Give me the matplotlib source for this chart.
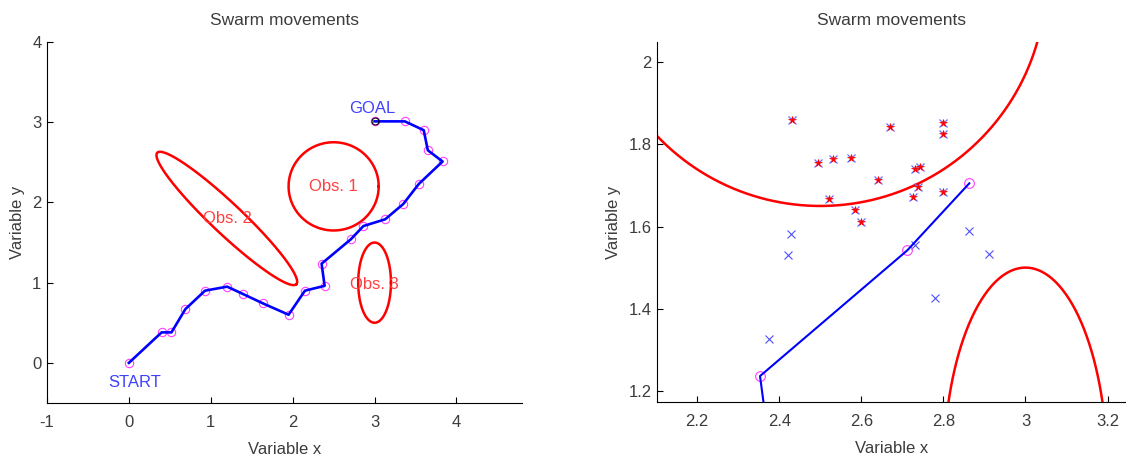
import numpy as np
import matplotlib
matplotlib.use("Agg")
import matplotlib.pyplot as plt

plt.rcParams['font.family'] = ['Liberation Sans', 'DejaVu Sans']
plt.rcParams['axes.unicode_minus'] = False

# path of the swarm best (start -> goal)
path_x = [0.00, 0.40, 0.52, 0.69, 0.93, 1.20, 1.39, 1.64, 1.95, 2.15, 2.39,
          2.353, 2.712, 2.863, 3.13, 3.35, 3.54, 3.83, 3.65, 3.60, 3.37, 3.00]
path_y = [0.00, 0.38, 0.38, 0.67, 0.90, 0.95, 0.86, 0.74, 0.60, 0.90, 0.96,
          1.236, 1.542, 1.705, 1.79, 1.98, 2.23, 2.51, 2.65, 2.90, 3.01, 3.01]
n_zoom = 14  # points of the path drawn in the zoomed view

# obstacles: (cx, cy, semi-axis a, semi-axis b, angle deg)
obstacles = [(2.5, 2.2, 0.55, 0.55, 0.0),
             (1.196, 1.80, 1.18, 0.19, -44.0),
             (3.0, 1.0, 0.20, 0.50, 0.0)]
obs_labels = ['Obs. 1', 'Obs. 2', 'Obs. 3']
obs_label_xy = [(2.5, 2.2), (1.2, 1.8), (3.0, 0.98)]

# particles in the zoomed view
star_x = [2.430, 2.671, 2.800, 2.798, 2.495, 2.532, 2.574, 2.640, 2.730, 2.742,
          2.739, 2.725, 2.798, 2.521, 2.584, 2.598]
star_y = [1.859, 1.841, 1.851, 1.825, 1.754, 1.765, 1.767, 1.712, 1.739, 1.746,
          1.697, 1.673, 1.683, 1.668, 1.641, 1.610]
cross_x = [2.429, 2.421, 2.374, 2.730, 2.863, 2.912, 2.779]
cross_y = [1.581, 1.531, 1.326, 1.555, 1.589, 1.533, 1.427]

txt = '#3c3c3c'
fs = 12


def ellipse(cx, cy, a, b, ang):
    t = np.linspace(0, 2 * np.pi, 400)
    th = np.deg2rad(ang)
    ex = a * np.cos(t)
    ey = b * np.sin(t)
    return cx + ex * np.cos(th) - ey * np.sin(th), cy + ex * np.sin(th) + ey * np.cos(th)


def style(ax):
    ax.spines['top'].set_visible(False)
    ax.spines['right'].set_visible(False)
    ax.tick_params(direction='in', length=4, colors='black', labelcolor=txt,
                   labelsize=fs)
    ax.tick_params(axis='x', pad=9)
    ax.tick_params(axis='y', pad=4)
    ax.set_title('Swarm movements', fontsize=12.5, color=txt, pad=12)
    ax.set_xlabel('Variable x', fontsize=fs, color=txt, labelpad=8)
    ax.set_ylabel('Variable y', fontsize=fs, color=txt, labelpad=5)


fig = plt.figure(figsize=(11.26, 4.57), dpi=100)
ax1 = fig.add_axes([0.0417, 0.1182, 0.4219, 0.790])
ax2 = fig.add_axes([0.5835, 0.1204, 0.4165, 0.7877])

# left: full scene
for (cx, cy, a, b, ang), lab, (lx, ly) in zip(obstacles, obs_labels, obs_label_xy):
    ex, ey = ellipse(cx, cy, a, b, ang)
    ax1.plot(ex, ey, color='red', lw=1.8)
    ax1.text(lx, ly, lab, color='#ff4040', fontsize=fs, ha='center', va='center')
ax1.plot(path_x, path_y, 'o', ms=6, mfc='none', mec='#ff40ff', mew=0.8)
ax1.plot(path_x, path_y, color='#0000ff', lw=1.9)
ax1.plot(path_x[-1], path_y[-1], 'o', ms=5, mfc='none', mec='black', mew=0.8)
ax1.text(2.97, 3.17, 'GOAL', color='#4040ff', fontsize=fs, ha='center', va='center')
ax1.text(0.07, -0.24, 'START', color='#4040ff', fontsize=fs, ha='center', va='center')
ax1.set_xlim(-1, 4.8)
ax1.set_ylim(-0.5, 4)
ax1.set_xticks([-1, 0, 1, 2, 3, 4])
ax1.set_yticks([0, 1, 2, 3, 4])
style(ax1)

# right: zoomed view
for (cx, cy, a, b, ang) in obstacles:
    ex, ey = ellipse(cx, cy, a, b, ang)
    ax2.plot(ex, ey, color='red', lw=1.8)
ax2.plot(star_x, star_y, 'x', ms=5.5, color='#6a6aff', mew=0.9)
ax2.plot(star_x, star_y, '*', ms=5.5, color='red', mew=0.5)
ax2.plot(cross_x, cross_y, 'x', ms=5.5, color='#5050ff', mew=0.8)
ax2.plot(path_x[:n_zoom], path_y[:n_zoom], 'o', ms=7, mfc='none', mec='#ff40ff', mew=0.8)
ax2.plot(path_x[:n_zoom], path_y[:n_zoom], color='#0000ff', lw=1.5)
ax2.set_xlim(2.102, 3.245)
ax2.set_ylim(1.173, 2.049)
ax2.set_xticks([2.2, 2.4, 2.6, 2.8, 3.0, 3.2])
ax2.set_xticklabels(['2.2', '2.4', '2.6', '2.8', '3', '3.2'])
ax2.set_yticks([1.2, 1.4, 1.6, 1.8, 2.0])
ax2.set_yticklabels(['1.2', '1.4', '1.6', '1.8', '2'])
style(ax2)

fig.savefig('out.png', dpi=100)
